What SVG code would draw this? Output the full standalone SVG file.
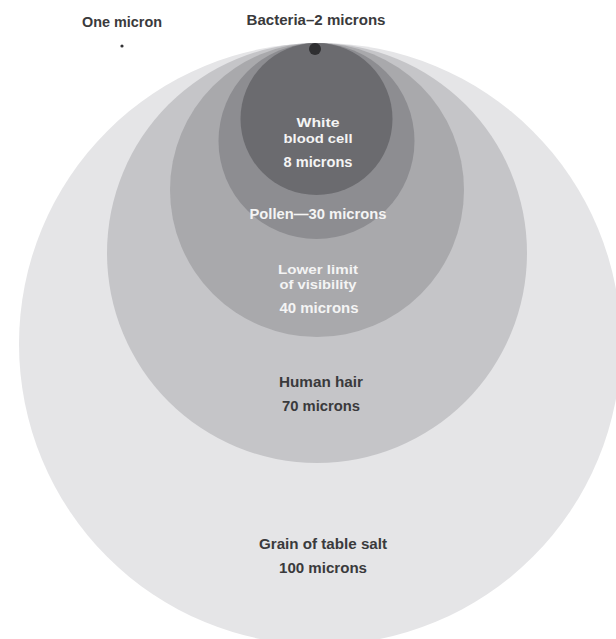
<svg xmlns="http://www.w3.org/2000/svg" width="616" height="639" viewBox="0 0 616 639">
<style>
  text { font-family: "Liberation Sans", Arial, sans-serif; font-weight: bold; font-size: 14px; text-anchor: middle; }
  .dark { fill: #3a3a3c; }
  .light { fill: #f4f4f4; }
  .small { font-size: 13px; }
</style>
<rect width="616" height="639" fill="#ffffff"/>
<g id="salt">
  <circle cx="320" cy="344" r="301" fill="#e5e5e7"/>
  <text class="dark" x="323" y="549" textLength="128" lengthAdjust="spacingAndGlyphs">Grain of table salt</text>
  <text class="dark" x="323" y="573" textLength="88" lengthAdjust="spacingAndGlyphs">100 microns</text>
</g>
<g id="hair">
  <circle cx="317" cy="253" r="210" fill="#c5c5c8"/>
  <text class="dark" x="321" y="387" textLength="84" lengthAdjust="spacingAndGlyphs">Human hair</text>
  <text class="dark" x="321" y="411" textLength="78" lengthAdjust="spacingAndGlyphs">70 microns</text>
</g>
<g id="visibility">
  <circle cx="317" cy="190" r="147" fill="#a9a9ac"/>
  <text class="light small" x="318" y="274" textLength="80" lengthAdjust="spacingAndGlyphs">Lower limit</text>
  <text class="light small" x="318" y="289" textLength="77" lengthAdjust="spacingAndGlyphs">of visibility</text>
  <text class="light" x="319" y="313" textLength="79" lengthAdjust="spacingAndGlyphs">40 microns</text>
</g>
<g id="pollen">
  <circle cx="316.5" cy="141" r="98" fill="#8d8d91"/>
  <text class="light" x="318" y="219" textLength="137" lengthAdjust="spacingAndGlyphs">Pollen—30 microns</text>
</g>
<g id="white-blood-cell">
  <circle cx="316.5" cy="119" r="76" fill="#6b6b6f"/>
  <text class="light small" x="318" y="127" textLength="43" lengthAdjust="spacingAndGlyphs">White</text>
  <text class="light small" x="318" y="143" textLength="69" lengthAdjust="spacingAndGlyphs">blood cell</text>
  <text class="light" x="318" y="167" textLength="69" lengthAdjust="spacingAndGlyphs">8 microns</text>
</g>
<g id="bacteria">
  <circle cx="315" cy="49" r="6" fill="#2f2f31"/>
  <text class="dark" x="316" y="25" textLength="139" lengthAdjust="spacingAndGlyphs">Bacteria–2 microns</text>
</g>
<g id="one-micron">
  <circle cx="122" cy="46" r="1.6" fill="#333335"/>
  <text class="dark" x="122" y="27" textLength="80" lengthAdjust="spacingAndGlyphs">One micron</text>
</g>
</svg>
